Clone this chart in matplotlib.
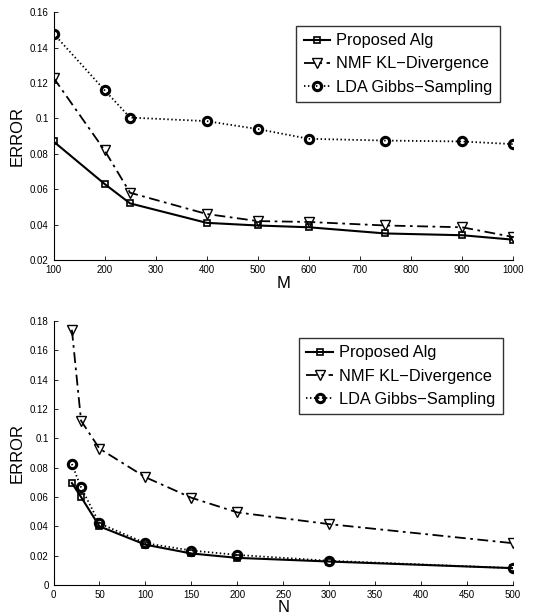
import matplotlib
matplotlib.use('Agg')
import matplotlib.pyplot as plt

plt.rcParams['font.family'] = ['Liberation Sans', 'DejaVu Sans']

# Top panel: error vs M
m_vals = [100, 200, 250, 400, 500, 600, 750, 900, 1000]
m_proposed = [0.087, 0.063, 0.052, 0.041, 0.0395, 0.0385, 0.035, 0.034, 0.0315]
m_nmf = [0.123, 0.082, 0.058, 0.046, 0.042, 0.0415, 0.0395, 0.0385, 0.033]
m_lda = [0.148, 0.116, 0.1005, 0.0985, 0.094, 0.0885, 0.0875, 0.087, 0.0855]

# Bottom panel: error vs N
n_vals = [20, 30, 50, 100, 150, 200, 300, 500]
n_proposed = [0.0695, 0.060, 0.040, 0.0275, 0.0215, 0.0185, 0.016, 0.0115]
n_nmf = [0.174, 0.112, 0.093, 0.0735, 0.0595, 0.0495, 0.0415, 0.0285]
n_lda = [0.0825, 0.0665, 0.042, 0.0285, 0.0235, 0.0205, 0.0165, 0.0115]

labels = ['Proposed Alg', 'NMF KL\u2212Divergence', 'LDA Gibbs\u2212Sampling']

fig = plt.figure(figsize=(5.33, 6.14), dpi=100)
ax1 = fig.add_axes([53.5/533, 1 - 260/614, 459.5/533, 247.7/614])
ax2 = fig.add_axes([53.5/533, 1 - 585/614, 459.5/533, 264/614])


def draw(ax, x, p, n, l, anchor):
    ax.plot(x, p, '-', color='black', lw=1.5, marker='s', ms=4.5, mfc='none', mew=1.2, label=labels[0])
    ax.plot(x, n, color='black', lw=1.3, ls=(0, (6, 2.5, 1.5, 2.5)),
            marker='v', ms=6.5, mfc='none', mew=1.0, label=labels[1])
    ax.plot(x, l, color='black', lw=1.3, ls=(0, (0.8, 1.4)),
            marker='o', ms=6, mfc='none', mew=2.2, label=labels[2])
    for s in ['top', 'right']:
        ax.spines[s].set_visible(False)
    for s in ['left', 'bottom']:
        ax.spines[s].set_linewidth(0.8)
    ax.tick_params(direction='in', labelsize=7, length=3, width=0.6)
    ax.set_ylabel('ERROR', fontsize=12, labelpad=4)
    leg = ax.legend(loc='upper right', bbox_to_anchor=anchor, borderaxespad=0,
                    fontsize=11.8, frameon=True, fancybox=False,
                    edgecolor='black', handlelength=1.6, handletextpad=0.4,
                    borderpad=0.45, labelspacing=0.5)
    leg.get_frame().set_linewidth(1.0)


draw(ax1, m_vals, m_proposed, m_nmf, m_lda, (0.9717, 0.945))
ax1.set_xlim(100, 1000)
ax1.set_ylim(0.02, 0.16)
ax1.set_xticks(range(100, 1001, 100))
ax1.set_yticks([0.02, 0.04, 0.06, 0.08, 0.1, 0.12, 0.14, 0.16])
ax1.set_yticklabels(['0.02', '0.04', '0.06', '0.08', '0.1', '0.12', '0.14', '0.16'])
ax1.set_xlabel('M', fontsize=12, labelpad=1)

draw(ax2, n_vals, n_proposed, n_nmf, n_lda, (0.978, 0.9356))
ax2.set_xlim(0, 500)
ax2.set_ylim(0, 0.18)
ax2.set_xticks(range(0, 501, 50))
ax2.set_yticks([0, 0.02, 0.04, 0.06, 0.08, 0.1, 0.12, 0.14, 0.16, 0.18])
ax2.set_yticklabels(['0', '0.02', '0.04', '0.06', '0.08', '0.1', '0.12', '0.14', '0.16', '0.18'])
ax2.set_xlabel('N', fontsize=12, labelpad=0)

fig.savefig('out.png', dpi=100)
